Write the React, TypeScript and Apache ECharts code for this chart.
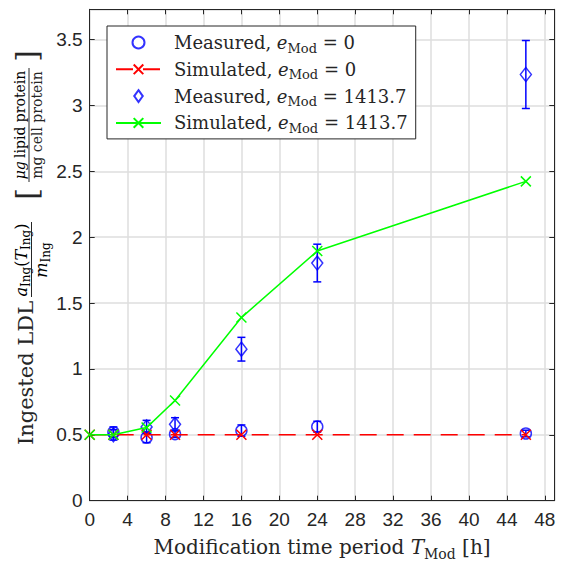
import React, { useEffect, useRef } from 'react';
import * as echarts from 'echarts';

// ---- data ----
const measuredTimes = [2.5, 6, 9, 16, 24, 46];
const simulatedTimes = [0, 2.5, 6, 9, 16, 24, 46];
const measured0 = [0.52, 0.48, 0.505, 0.532, 0.562, 0.51];
const measured0Err = [0.04, 0.04, 0.025, 0.043, 0.041, 0.025];
const measured1 = [0.5, 0.56, 0.58, 1.15, 1.804, 3.235];
const measured1Err = [0.04, 0.05, 0.05, 0.09, 0.143, 0.258];
const simulated0 = [0.5, 0.5, 0.5, 0.5, 0.5, 0.5, 0.5];
const simulated1 = [0.5, 0.5, 0.555, 0.76, 1.39, 1.895, 2.424];
const seriesNames = [
  'Measured, e_Mod = 0',
  'Simulated, e_Mod = 0',
  'Measured, e_Mod = 1413.7',
  'Simulated, e_Mod = 1413.7',
];
const legendValues = ['0', '0', '1413.7', '1413.7'];
const legendPrefixes = ['Measured, ', 'Simulated, ', 'Measured, ', 'Simulated, '];

const SERIF = '"DejaVu Serif", "Liberation Serif", serif';
const SANS = '"Liberation Sans", Arial, sans-serif';
const TXT = '#262626';
const AX = '#262626';
const GRID = '#dedede';
const BLUE = '#0000ff';
const RED = '#ff0000';
const GREEN = '#00ff00';
const XMARK = 'path://M0,0L10,10M10,0L0,10';
const DIAMOND = 'path://M5,0L10,7L5,14L0,7Z';

function makeRich(size: number, subSize: number, lh: number, subPad: number) {
  return {
    p: { fontFamily: SERIF, fontSize: size, color: TXT, lineHeight: lh, padding: [0, 0, 0, 8] },
    n: { fontFamily: SERIF, fontSize: size, color: TXT, lineHeight: lh },
    i: { fontFamily: SERIF, fontStyle: 'italic', fontSize: size, color: TXT, lineHeight: lh },
    s: { fontFamily: SERIF, fontSize: subSize, color: TXT, lineHeight: lh - subPad, padding: [subPad, 0, 0, 0] },
  };
}

function errorSeries(name: string, ys: number[], errs: number[]) {
  const data = measuredTimes.map((t, k) => [t, ys[k] - errs[k], ys[k] + errs[k]]);
  return {
    type: 'custom',
    name,
    data,
    encode: { x: 0, y: [1, 2] },
    silent: true,
    renderItem: (_params: any, api: any) => {
      const x = api.value(0);
      const lo = api.coord([x, api.value(1)]);
      const hi = api.coord([x, api.value(2)]);
      const w = 4;
      const st = { stroke: BLUE, lineWidth: 1.5 };
      return {
        type: 'group',
        children: [
          { type: 'line', shape: { x1: lo[0], y1: lo[1], x2: hi[0], y2: hi[1] }, style: st },
          { type: 'line', shape: { x1: hi[0] - w, y1: hi[1], x2: hi[0] + w, y2: hi[1] }, style: st },
          { type: 'line', shape: { x1: lo[0] - w, y1: lo[1], x2: lo[0] + w, y2: lo[1] }, style: st },
        ],
      };
    },
  };
}

export default function App() {
  const ref = useRef<HTMLDivElement>(null);
  useEffect(() => {
    if (!ref.current) return;
    const chart = echarts.init(ref.current, undefined, { renderer: 'svg' });
    const legendRich = makeRich(18, 13, 20, 11);
    const titleRich = makeRich(20, 14, 24, 13);
    const fracRich = makeRich(16, 12, 19, 9);
    const axisBase = (pos: string) => ({
      position: pos,
      axisLine: { show: true, onZero: false, lineStyle: { color: AX, width: 1 } },
      axisTick: { show: true, inside: true, length: 5, lineStyle: { color: AX, width: 1 } },
    });
    const option: any = {
      animation: false,
      grid: { left: 89.7, right: 6.7, top: 9.3, bottom: 64.3, outerBoundsMode: 'none', containLabel: false },
      xAxis: [
        {
          type: 'value', min: 0, max: 49, interval: 4,
          ...axisBase('bottom'),
          axisLabel: {
            fontFamily: SANS, fontSize: 19, color: TXT, margin: 9,
            formatter: (v: number) => (Math.abs(v / 4 - Math.round(v / 4)) < 1e-6 ? String(v) : ''),
          },
          splitLine: { show: true, lineStyle: { color: GRID, width: 1.5 } },
          name: '{n|Modification time period }{i|T}{s|Mod}{n| [h]}',
          nameLocation: 'middle',
          nameGap: 34,
          nameTextStyle: { rich: titleRich },
        },
        {
          type: 'value', min: 0, max: 49, interval: 4,
          ...axisBase('top'),
          axisLabel: { show: false },
          splitLine: { show: false },
        },
      ],
      yAxis: [
        {
          type: 'value', min: 0, max: 3.73, interval: 0.5,
          ...axisBase('left'),
          axisLabel: {
            fontFamily: SANS, fontSize: 19, color: TXT, margin: 7,
            formatter: (v: number) => (Math.abs(v * 2 - Math.round(v * 2)) < 1e-6 ? String(v) : ''),
          },
          splitLine: { show: true, lineStyle: { color: GRID, width: 1.5 } },
        },
        {
          type: 'value', min: 0, max: 3.73, interval: 0.5,
          ...axisBase('right'),
          axisLabel: { show: false },
          splitLine: { show: false },
        },
      ],
      legend: {
        data: [
          { name: seriesNames[0] },
          { name: seriesNames[1] },
          { name: seriesNames[2], icon: DIAMOND },
          { name: seriesNames[3] },
        ],
        orient: 'vertical',
        left: 107,
        top: 26,
        padding: [4.5, 8, 4, 8],
        itemGap: 2.8,
        itemWidth: 45,
        itemHeight: 12,
        backgroundColor: '#ffffff',
        borderColor: '#262626',
        borderWidth: 1,
        selectedMode: false,
        formatter: (name: string) => {
          const k = seriesNames.indexOf(name);
          return `{p|${legendPrefixes[k]}}{i|e}{s|Mod}{n| = ${legendValues[k]}}`;
        },
        textStyle: { fontFamily: SERIF, fontSize: 18, color: TXT, rich: legendRich },
      },
      series: [
        errorSeries('err0', measured0, measured0Err),
        {
          type: 'scatter', name: seriesNames[0],
          data: measuredTimes.map((t, k) => [t, measured0[k]]),
          symbol: 'circle', symbolSize: 11,
          itemStyle: { color: 'transparent', borderColor: BLUE, borderWidth: 1.5 },
        },
        {
          type: 'line', name: seriesNames[1],
          data: simulatedTimes.map((t, k) => [t, simulated0[k]]),
          symbol: XMARK, symbolSize: 10, showSymbol: true,
          lineStyle: { color: RED, width: 1.5, type: [17, 10] },
          itemStyle: { color: RED, borderColor: RED, borderWidth: 1.5 },
        },
        errorSeries('err1', measured1, measured1Err),
        {
          type: 'scatter', name: seriesNames[2],
          data: measuredTimes.map((t, k) => [t, measured1[k]]),
          symbol: 'diamond', symbolSize: [11, 14],
          itemStyle: { color: 'transparent', borderColor: BLUE, borderWidth: 1.5 },
        },
        {
          type: 'line', name: seriesNames[3],
          data: simulatedTimes.map((t, k) => [t, simulated1[k]]),
          symbol: XMARK, symbolSize: 10, showSymbol: true,
          lineStyle: { color: GREEN, width: 1.5 },
          itemStyle: { color: GREEN, borderColor: GREEN, borderWidth: 1.5 },
        },
      ],
      graphic: [
        {
          type: 'text', x: 26, y: 373, rotation: Math.PI / 2,
          style: { text: 'Ingested LDL', fontFamily: SERIF, fontSize: 21, fill: TXT, align: 'center', verticalAlign: 'middle' },
        },
        {
          type: 'text', x: 21, y: 260, rotation: Math.PI / 2,
          style: { text: '{i|a}{s|Ing}{n|(}{i|T}{s|Ing}{n|)}', rich: fracRich, align: 'center', verticalAlign: 'middle' },
        },
        { type: 'line', shape: { x1: 31.5, y1: 222, x2: 31.5, y2: 297 }, style: { stroke: TXT, lineWidth: 1 } },
        {
          type: 'text', x: 41, y: 260, rotation: Math.PI / 2,
          style: { text: '{i|m}{s|Ing}', rich: fracRich, align: 'center', verticalAlign: 'middle' },
        },
        {
          type: 'text', x: 26, y: 194, rotation: Math.PI / 2,
          style: { text: '[', fontFamily: SERIF, fontSize: 30, fill: TXT, align: 'center', verticalAlign: 'middle' },
        },
        {
          type: 'text', x: 26, y: 56, rotation: Math.PI / 2,
          style: { text: ']', fontFamily: SERIF, fontSize: 30, fill: TXT, align: 'center', verticalAlign: 'middle' },
        },
        {
          type: 'text', x: 20, y: 125, rotation: Math.PI / 2,
          style: { text: '{i|μg} {n|lipid protein}', rich: makeRich(14, 10, 17, 6), align: 'center', verticalAlign: 'middle' },
        },
        { type: 'line', shape: { x1: 29, y1: 68, x2: 29, y2: 182 }, style: { stroke: TXT, lineWidth: 1 } },
        {
          type: 'text', x: 37, y: 125, rotation: Math.PI / 2,
          style: { text: 'mg cell protein', fontFamily: SERIF, fontSize: 14, fill: TXT, align: 'center', verticalAlign: 'middle' },
        },
      ],
    };
    chart.setOption(option);
    return () => chart.dispose();
  }, []);
  return (
    <div
      ref={ref}
      style={{ position: 'fixed', left: 0, top: 0, width: 561, height: 565, background: '#ffffff' }}
    />
  );
}
